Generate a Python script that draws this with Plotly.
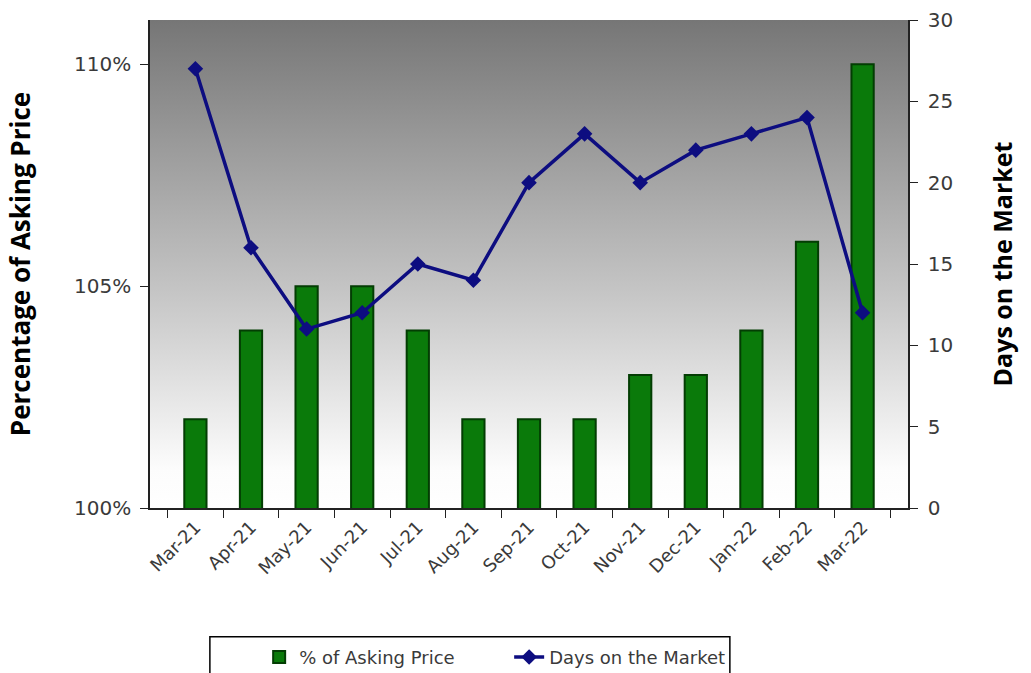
import plotly.graph_objects as go

# Monthly market data
months = ["Mar-21", "Apr-21", "May-21", "Jun-21", "Jul-21", "Aug-21", "Sep-21",
          "Oct-21", "Nov-21", "Dec-21", "Jan-22", "Feb-22", "Mar-22"]
pct_of_asking = [102, 104, 105, 105, 104, 102, 102, 102, 103, 103, 104, 106, 110]
days_on_market = [27, 16, 11, 12, 15, 14, 20, 23, 20, 22, 23, 24, 12]

left_ticks = [100, 105, 110]
left_tick_text = ["100%", "105%", "110%"]
right_ticks = [0, 5, 10, 15, 20, 25, 30]

FONT = "'DejaVu Sans', sans-serif"
TITLE_FONT = "'Open Sans', 'Noto Sans', sans-serif"
TEXT_COLOR = "#3a3a3a"

# vertical grey-to-white gradient for the plotting area background
gradient_svg = (
    "data:image/svg+xml;utf8,"
    "<svg xmlns='http://www.w3.org/2000/svg' width='100' height='100' preserveAspectRatio='none'>"
    "<defs><linearGradient id='g' x1='0' y1='0' x2='0' y2='1'>"
    "<stop offset='0' stop-color='%23767676'/>"
    "<stop offset='0.55' stop-color='%23c4c4c4'/>"
    "<stop offset='0.92' stop-color='%23fcfcfc'/>"
    "<stop offset='1' stop-color='%23ffffff'/>"
    "</linearGradient></defs>"
    "<rect width='100' height='100' fill='url(%23g)'/></svg>"
)

fig = go.Figure()

fig.add_trace(go.Bar(
    x=months, y=pct_of_asking, base=0,
    name="% of Asking Price",
    width=0.4,
    marker=dict(color="#0a7a0a", line=dict(color="#033d03", width=2)),
    yaxis="y",
))

fig.add_trace(go.Scatter(
    x=months, y=days_on_market,
    name="Days on the Market",
    mode="lines+markers",
    line=dict(color="#0d0d80", width=3.5),
    marker=dict(symbol="diamond", size=12, color="#0d0d80"),
    yaxis="y2",
))

fig.update_layout(
    width=1031, height=673,
    margin=dict(l=150, r=123, t=20, b=165, autoexpand=False),
    paper_bgcolor="white",
    plot_bgcolor="rgba(0,0,0,0)",
    font=dict(family=FONT, size=15, color=TEXT_COLOR),
    barmode="overlay",
    images=[dict(
        source=gradient_svg, xref="paper", yref="paper",
        x=0, y=1, sizex=1, sizey=1, xanchor="left", yanchor="top",
        sizing="stretch", layer="below",
    )],
    # frame around the legend
    shapes=[dict(
        type="rect", xref="paper", yref="paper",
        x0=0.079, x1=0.765, y0=-0.264, y1=-0.37,
        line=dict(color="#000000", width=1.5), fillcolor="rgba(0,0,0,0)",
    )],
    xaxis=dict(
        type="category",
        tickangle=-45,
        tickson="boundaries",
        ticks="outside", ticklen=8, tickcolor="#222222",
        showline=True, linecolor="#222222", linewidth=1.5,
        showgrid=False, automargin=False,
        tickfont=dict(family=FONT, size=18, color=TEXT_COLOR),
    ),
    yaxis=dict(
        range=[100, 111],
        tickvals=left_ticks, ticktext=left_tick_text,
        ticks="outside", ticklen=8, tickcolor="#222222",
        ticklabelstandoff=5,
        showline=True, linecolor="#222222", linewidth=1.5,
        showgrid=False, zeroline=False, automargin=False,
        tickfont=dict(family=FONT, size=20, color=TEXT_COLOR),
        title=dict(text="<b>Percentage of Asking Price</b>", standoff=36,
                   font=dict(family=TITLE_FONT, size=26, color="#000000")),
    ),
    yaxis2=dict(
        range=[0, 30],
        tickvals=right_ticks,
        overlaying="y", side="right",
        ticks="outside", ticklen=8, tickcolor="#222222",
        ticklabelstandoff=6,
        showline=True, linecolor="#222222", linewidth=1.5,
        showgrid=False, zeroline=False, automargin=False,
        tickfont=dict(family=FONT, size=20, color=TEXT_COLOR),
        title=dict(text="<b>Days on the Market</b>", standoff=42,
                   font=dict(family=TITLE_FONT, size=25, color="#000000")),
    ),
    legend=dict(
        orientation="h",
        x=0.144, y=-0.268, xanchor="left", yanchor="top",
        borderwidth=0,
        bgcolor="rgba(0,0,0,0)",
        entrywidth=205,
        font=dict(family=FONT, size=18, color=TEXT_COLOR),
    ),
    showlegend=True,
)

fig.write_html("out.html")
